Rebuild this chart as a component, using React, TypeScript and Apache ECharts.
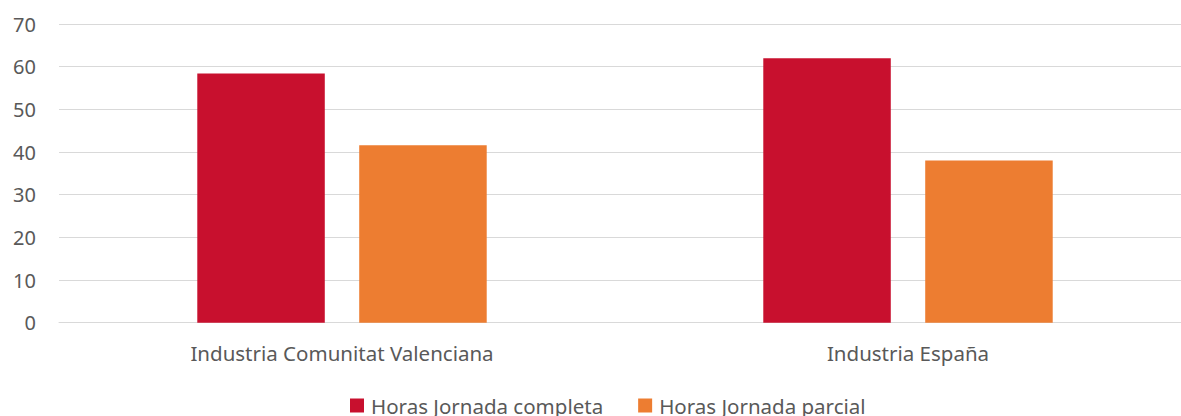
import React, { useEffect, useRef } from "react";
import * as echarts from "echarts";

const categories = ["Industria Comunitat Valenciana", "Industria España"];
const seriesNames = ["Horas Jornada completa", "Horas Jornada parcial"];
const completaValues = [58.4, 62.0];
const parcialValues = [41.6, 38.0];
const yTicks = { min: 0, max: 70, interval: 10 };

const FONT = "'Noto Sans', 'Open Sans', sans-serif";
const TEXT = "#595959";

export default function App() {
  const ref = useRef<HTMLDivElement>(null);
  useEffect(() => {
    if (!ref.current) return;
    const chart = echarts.init(ref.current, null, { renderer: "svg" });
    chart.setOption({
      animation: false,
      textStyle: { fontFamily: FONT },
      grid: { left: 59, width: 1132, top: 24, height: 298.7, containLabel: false },
      legend: {
        left: 350,
        top: 395,
        padding: 0,
        itemWidth: 14,
        itemHeight: 14,
        itemGap: 35,
        icon: "rect",
        textStyle: { fontFamily: FONT, fontSize: 20.5, color: TEXT, padding: [0, 0, 0, 2] },
        data: seriesNames,
      },
      xAxis: {
        type: "category",
        data: categories,
        axisLine: { show: true, lineStyle: { color: "#D9D9D9", width: 1 } },
        axisTick: { show: false },
        axisLabel: { fontFamily: FONT, fontSize: 20.5, color: TEXT, margin: 20 },
      },
      yAxis: {
        type: "value",
        min: yTicks.min,
        max: yTicks.max,
        interval: yTicks.interval,
        axisLine: { show: false },
        axisTick: { show: false },
        splitLine: { lineStyle: { color: "#D9D9D9", width: 1 } },
        axisLabel: { fontFamily: FONT, fontSize: 20, color: TEXT, margin: 23 },
      },
      series: [
        {
          name: seriesNames[0],
          type: "bar",
          data: completaValues,
          barWidth: 127.5,
          barGap: "27%",
          itemStyle: { color: "#C8102E" },
        },
        {
          name: seriesNames[1],
          type: "bar",
          data: parcialValues,
          barWidth: 127.5,
          itemStyle: { color: "#ED7D31" },
        },
      ],
    });
    return () => chart.dispose();
  }, []);
  return (
    <div
      style={{
        position: "absolute",
        left: 0,
        top: 0,
        width: 1181,
        height: 416,
        overflow: "hidden",
        background: "#fff",
      }}
    >
      <div ref={ref} style={{ width: 1210, height: 416 }} />
    </div>
  );
}
